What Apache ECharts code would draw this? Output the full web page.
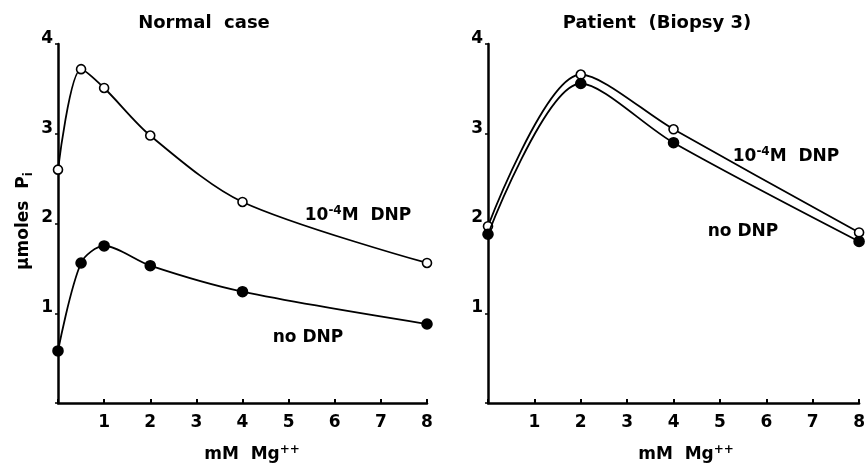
<!DOCTYPE html>
<html><head><meta charset="utf-8">
<script src="https://cdn.jsdelivr.net/npm/echarts@6/dist/echarts.min.js"></script>
<style>html,body{margin:0;padding:0;background:#fff}#c{width:868px;height:467px}</style>
</head><body><div id="c"></div>
<script>
// Data
const normalX = [0, 0.5, 1, 2, 4, 8];
const normalDNP = [2.60, 3.72, 3.51, 2.98, 2.24, 1.56];
const normalNoDNP = [0.58, 1.56, 1.75, 1.53, 1.24, 0.88];
const patientX = [0, 2, 4, 8];
const patientDNP = [1.97, 3.66, 3.05, 1.90];
const patientNoDNP = [1.88, 3.56, 2.90, 1.80];
const xTicks = [1, 2, 3, 4, 5, 6, 7, 8];
const yTicks = [1, 2, 3, 4];

const FONT = 'DejaVu Sans';
const pairs = (xs, ys) => xs.map((x, i) => [x, ys[i]]);

function xAxis(gi) {
  return {
    type: 'value', gridIndex: gi, min: 0, max: 8, interval: 1,
    axisLine: { show: true, onZero: false, lineStyle: { color: '#000', width: 2.5 } },
    axisTick: { show: true, inside: true, length: 4, lineStyle: { color: '#000', width: 2 } },
    splitLine: { show: false },
    axisLabel: {
      color: '#000', fontFamily: FONT, fontWeight: 'bold', fontSize: 17, margin: 11,
      formatter: v => (xTicks.indexOf(v) >= 0 ? String(v) : '')
    }
  };
}
function yAxis(gi) {
  return {
    type: 'value', gridIndex: gi, min: 0, max: 4, interval: 1,
    axisLine: { show: true, onZero: false, lineStyle: { color: '#000', width: 2.5 } },
    axisTick: { show: true, length: 3, lineStyle: { color: '#000', width: 1.5 } },
    splitLine: { show: false },
    axisLabel: {
      color: '#000', fontFamily: FONT, fontWeight: 'bold', fontSize: 17, margin: 5,
      verticalAlign: 'bottom', padding: [0, 0, -3, 0],
      formatter: v => (yTicks.indexOf(v) >= 0 ? String(v) : '')
    }
  };
}
function line(gi, xs, ys, open) {
  return {
    type: 'line', xAxisIndex: gi, yAxisIndex: gi, data: pairs(xs, ys),
    smooth: 0.3, symbol: 'circle', symbolSize: open ? 9 : 10,
    lineStyle: { color: '#000', width: 1.8 },
    itemStyle: { color: open ? '#fff' : '#000', borderColor: '#000', borderWidth: 1.6 },
    z: open ? 3 : 4
  };
}
const rich = {
  n: { fontFamily: FONT, fontWeight: 'bold', fontSize: 17, color: '#000', lineHeight: 22 },
  t: { fontFamily: FONT, fontWeight: 'bold', fontSize: 18, color: '#000', lineHeight: 22 },
  sup: { fontFamily: FONT, fontWeight: 'bold', fontSize: 12, color: '#000', verticalAlign: 'top', lineHeight: 22 },
  sub: { fontFamily: FONT, fontWeight: 'bold', fontSize: 12, color: '#000', verticalAlign: 'bottom', lineHeight: 22 }
};
function txt(x, y, text, rot) {
  return {
    type: 'text', x: x, y: y, rotation: rot || 0,
    style: { text: text, rich: rich, align: 'center', verticalAlign: 'middle',
             fontFamily: FONT, fontWeight: 'bold', fontSize: 17, fill: '#000' }
  };
}

const chart = echarts.init(document.getElementById('c'));
chart.setOption({
  animation: false,
  backgroundColor: '#fff',
  grid: [
    { left: 58, top: 44, width: 369, height: 359 },
    { left: 488, top: 44, width: 375, height: 359 }
  ],
  xAxis: [xAxis(0), xAxis(1)],
  yAxis: [yAxis(0), yAxis(1)],
  series: [
    line(0, normalX, normalDNP, true),
    line(0, normalX, normalNoDNP, false),
    line(1, patientX, patientDNP, true),
    line(1, patientX, patientNoDNP, false)
  ],
  graphic: [
    txt(204, 23, '{t|Normal  case}'),
    txt(657, 23, '{t|Patient  (Biopsy 3)}'),
    txt(252, 455, '{n|mM  Mg}{sup|++}'),
    txt(686, 455, '{n|mM  Mg}{sup|++}'),
    txt(24, 221, '{n|μmoles  P}{sub|i}', Math.PI / 2),
    txt(358, 216, '{n|10}{sup|-4}{n|M  DNP}'),
    txt(308, 338, '{n|no DNP}'),
    txt(786, 157, '{n|10}{sup|-4}{n|M  DNP}'),
    txt(743, 232, '{n|no DNP}')
  ]
});
</script></body></html>
